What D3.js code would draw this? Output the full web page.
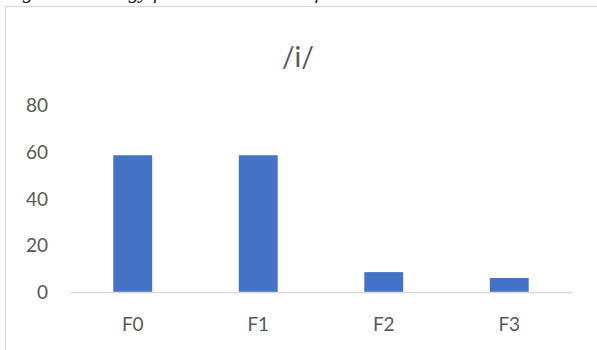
<!DOCTYPE html>
<html>
<head>
<meta charset="utf-8">
<script src="https://cdn.jsdelivr.net/npm/d3@7"></script>
<style>
  html, body { margin: 0; padding: 0; background: #fff; }
  svg { display: block; }
</style>
</head>
<body>
<svg id="chart" width="597" height="350"></svg>
<script>
// Formant energy for the vowel /i/
const chartTitle = "/i/";
const captionText = "Figure 4: Energy for natural status of vowels";
const categories = ["F0", "F1", "F2", "F3"];
const values = [58.5, 58.5, 8.5, 6];
const yTicks = [0, 20, 40, 60, 80];

const svg = d3.select("#chart");
const labelFont = "Lato, 'Open Sans', sans-serif";
const textColor = "#595959";

// caption line above the chart area (runs off the top of the page)
svg.append("text")
  .attr("x", 4)
  .attr("y", -2.5)
  .attr("font-family", "'Liberation Serif', 'Times New Roman', serif")
  .attr("font-style", "italic")
  .attr("font-size", 21)
  .attr("fill", "#222")
  .text(captionText);

// chart frame
svg.append("rect")
  .attr("x", 5.5).attr("y", 6.5)
  .attr("width", 640).attr("height", 400)
  .attr("fill", "#fff")
  .attr("stroke", "#d9d9d9")
  .attr("stroke-width", 1.3);

const plot = { left: 70, right: 572, top: 105, bottom: 292 };

const x = d3.scaleBand()
  .domain(categories)
  .range([plot.left, plot.right])
  .paddingInner(0.69)
  .paddingOuter(0.345);

const y = d3.scaleLinear()
  .domain([0, 80])
  .range([plot.bottom, plot.top]);

// title
svg.append("text")
  .attr("x", (plot.left + plot.right) / 2 - 23)
  .attr("y", 67)
  .attr("text-anchor", "middle")
  .attr("font-family", labelFont)
  .attr("font-size", 28)
  .attr("fill", textColor)
  .text(chartTitle);

// bars
svg.append("g")
  .selectAll("rect")
  .data(values)
  .join("rect")
  .attr("x", (d, i) => x(categories[i]))
  .attr("y", d => y(d))
  .attr("width", x.bandwidth())
  .attr("height", d => y(0) - y(d))
  .attr("fill", "#4472C4");

// y axis (labels only)
const yAxis = d3.axisLeft(y).tickValues(yTicks).tickSize(0).tickPadding(0);
const gy = svg.append("g")
  .attr("transform", `translate(48,0)`)
  .call(yAxis);
gy.select(".domain").remove();
gy.selectAll("text")
  .attr("font-family", labelFont)
  .attr("font-size", 19)
  .attr("fill", textColor)
  .attr("dy", "0.35em");

// x axis baseline and category labels
const xAxis = d3.axisBottom(x).tickSize(0).tickPadding(0);
const gx = svg.append("g")
  .attr("transform", `translate(0,${plot.bottom})`)
  .call(xAxis);
gx.select(".domain")
  .attr("stroke", "#d9d9d9")
  .attr("stroke-width", 1.5);
gx.selectAll("text")
  .attr("font-family", labelFont)
  .attr("font-size", 19)
  .attr("fill", textColor)
  .attr("y", 39)
  .attr("dy", 0);
</script>
</body>
</html>
